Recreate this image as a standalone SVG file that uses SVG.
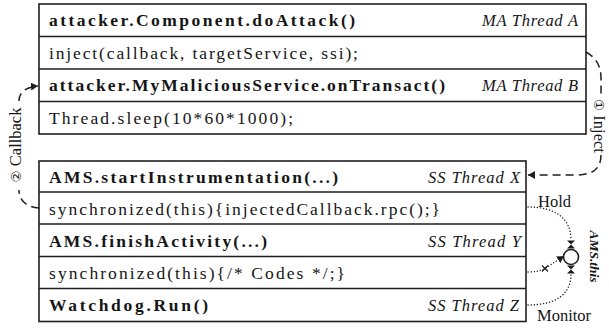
<svg xmlns="http://www.w3.org/2000/svg" width="609" height="329" viewBox="0 0 609 329">
<style>
.box{fill:#fff;stroke:#1e1e1e;stroke-width:1.6}
.sep{stroke:#1e1e1e;stroke-width:1.6}
.b{font-family:"Liberation Serif","Times New Roman",serif;font-weight:bold;font-size:17.5px;fill:#151515}
.r{font-family:"Liberation Serif","Times New Roman",serif;font-size:17.5px;fill:#151515}
.i{font-family:"Liberation Serif","Times New Roman",serif;font-style:italic;font-size:16.5px;fill:#151515}
.lab{font-family:"Liberation Serif","DejaVu Sans",serif;font-size:16.5px;fill:#151515}
.num{font-size:13.5px}
.dash{fill:none;stroke:#1e1e1e;stroke-width:1.5;stroke-dasharray:8 5}
.dot{fill:none;stroke:#1e1e1e;stroke-width:1.4;stroke-dasharray:0.1 3;stroke-linecap:round}
</style>
<defs>
<marker id="arr" viewBox="0 0 7 8" refX="7" refY="4" markerWidth="7" markerHeight="8" markerUnits="userSpaceOnUse" orient="auto"><path d="M0,0 L7,4 L0,8 Z" fill="#1e1e1e"/></marker>
<path id="bowtie" d="M-4,-4 L4,-4 L0,0 Z M0,0 L4,4 L-4,4 Z" fill="#1e1e1e"/>
</defs>

<rect class="box" x="39" y="4" width="547" height="130"/>
<rect class="box" x="39" y="161" width="487" height="160.5"/>

<g id="ma-thread-a">
<text class="b" x="49" y="26" textLength="306">attacker.Component.doAttack()</text>
<text class="i" x="482" y="26" textLength="96">MA Thread A</text>
<line class="sep" x1="39" y1="36.5" x2="586" y2="36.5"/>
<text class="r" x="49" y="58.5" textLength="309">inject(callback, targetService, ssi);</text>
</g>
<g id="ma-thread-b">
<line class="sep" x1="39" y1="69" x2="586" y2="69"/>
<text class="b" x="49" y="91" textLength="396">attacker.MyMaliciousService.onTransact()</text>
<text class="i" x="482" y="91" textLength="96">MA Thread B</text>
<line class="sep" x1="39" y1="101.5" x2="586" y2="101.5"/>
<text class="r" x="49" y="123.5" textLength="244">Thread.sleep(10*60*1000);</text>
</g>

<g id="ss-thread-x">
<text class="b" x="49" y="183" textLength="289">AMS.startInstrumentation(...)</text>
<text class="i" x="428" y="183" textLength="92">SS Thread X</text>
<line class="sep" x1="39" y1="192" x2="526" y2="192"/>
<text class="r" x="49" y="214.5" textLength="391">synchronized(this){injectedCallback.rpc();}</text>
</g>
<g id="ss-thread-y">
<line class="sep" x1="39" y1="224" x2="526" y2="224"/>
<text class="b" x="49" y="246.5" textLength="218">AMS.finishActivity(...)</text>
<text class="i" x="428" y="246.5" textLength="93">SS Thread Y</text>
<line class="sep" x1="39" y1="256.5" x2="526" y2="256.5"/>
<text class="r" x="49" y="278.5" textLength="296">synchronized(this){/* Codes */;}</text>
</g>
<g id="ss-thread-z">
<line class="sep" x1="39" y1="288.5" x2="526" y2="288.5"/>
<text class="b" x="49" y="310.5" textLength="159">Watchdog.Run()</text>
<text class="i" x="428" y="310.5" textLength="91">SS Thread Z</text>
</g>

<g id="lock-ams-this">
<circle cx="571" cy="257" r="7.5" fill="#fff" stroke="#1e1e1e" stroke-width="1.6"/>
<use href="#bowtie" x="571" y="244.5"/>
<use href="#bowtie" x="571" y="269.5"/>
<text transform="translate(590,256.5) rotate(90)" text-anchor="middle" font-family="Liberation Serif,serif" font-weight="bold" font-style="italic" font-size="13.5" fill="#151515">AMS.this</text>
</g>

<g id="connectors">
<path class="dash" d="M586,52 C595,57 601,65 601,78 L601,97 M601,155 C601,171 590,175 575,175 L528,175" marker-end="url(#arr)"/>
<text class="lab" transform="translate(594,126) rotate(90)" text-anchor="middle" font-size="16"><tspan class="num">①</tspan> Inject</text>
<path class="dash" d="M39,208 C28,207 19,202 19,190 M19,101 C19,92 26,87 38,86" marker-end="url(#arr)"/>
<text class="lab" transform="translate(21,145) rotate(-90)" text-anchor="middle"><tspan class="num">②</tspan> Callback</text>
<path class="dot" d="M528,207 C555,207 571,218 571,240"/>
<text class="lab" x="538" y="206.5">Hold</text>
<path class="dot" d="M528,305 C555,305 571,295 571,274"/>
<text class="lab" x="537" y="321">Monitor</text>
<path class="dot" d="M528,272 C535,272 540,271 545,268.5 L564,256" marker-end="url(#arr)"/>
<path d="M542,265.5 L548,271.5 M542,271.5 L548,265.5" stroke="#1e1e1e" stroke-width="1.2"/>
</g>
</svg>
